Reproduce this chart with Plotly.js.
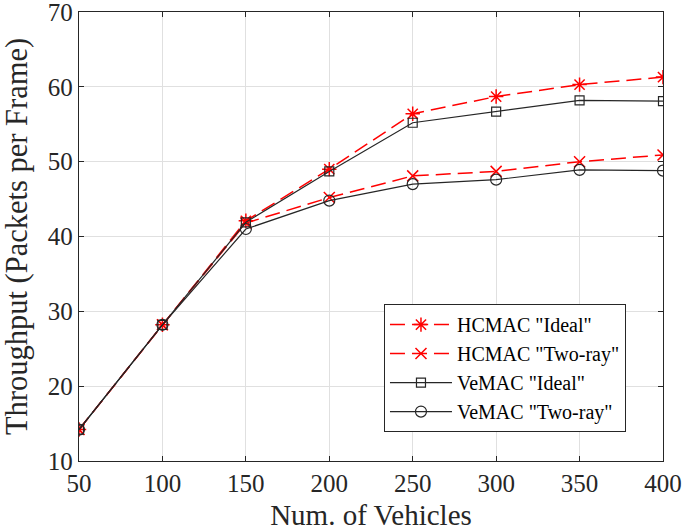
<!DOCTYPE html>
<html>
<head>
<meta charset="utf-8">
<script src="https://cdn.plot.ly/plotly-3.0.1.min.js"></script>
<style>html,body{margin:0;padding:0;background:#fff;}#chart{width:685px;height:531px;}</style>
</head>
<body>
<div id="chart"></div>
<script>
const vehicles = [50, 100, 150, 200, 250, 300, 350, 400];
const hcmacIdeal = [14.2, 28.2, 42.1, 49.0, 56.4, 58.7, 60.3, 61.3];
const hcmacTwoRay = [14.2, 28.2, 41.8, 45.2, 48.1, 48.7, 50.0, 50.9];
const vemacIdeal = [14.2, 28.2, 41.9, 48.7, 55.2, 56.7, 58.2, 58.1];
const vemacTwoRay = [14.2, 28.2, 41.0, 44.8, 47.0, 47.6, 48.9, 48.8];
const seriesNames = ['HCMAC "Ideal"', 'HCMAC "Two-ray"', 'VeMAC "Ideal"', 'VeMAC "Two-ray"'];
const xTicks = [50, 100, 150, 200, 250, 300, 350, 400];
const yTicks = [10, 20, 30, 40, 50, 60, 70];

const red = '#ff0000';
const blk = '#262626';
const font = 'Liberation Serif, Times New Roman, serif';

const traces = [
  {x: vehicles, y: hcmacIdeal, name: seriesNames[0], mode: 'lines+markers',
   line: {color: red, width: 1.5, dash: '15px,7px'},
   marker: {symbol: 'asterisk-open', size: 12, color: red, line: {color: red, width: 1.5}}},
  {x: vehicles, y: hcmacTwoRay, name: seriesNames[1], mode: 'lines+markers',
   line: {color: red, width: 1.5, dash: '15px,7px'},
   marker: {symbol: 'x-thin-open', size: 11, color: red, line: {color: red, width: 1.5}}},
  {x: vehicles, y: vemacIdeal, name: seriesNames[2], mode: 'lines+markers',
   line: {color: blk, width: 1.2},
   marker: {symbol: 'square-open', size: 9, color: blk, line: {color: blk, width: 1.2}}},
  {x: vehicles, y: vemacTwoRay, name: seriesNames[3], mode: 'lines+markers',
   line: {color: blk, width: 1.2},
   marker: {symbol: 'circle-open', size: 11, color: blk, line: {color: blk, width: 1.2}}}
];

const axisCommon = {
  showline: true, linecolor: blk, linewidth: 1.2, mirror: 'allticks',
  ticks: 'inside', ticklen: 5, tickcolor: blk, tickwidth: 1,
  showgrid: true, gridcolor: '#e0e0e0', gridwidth: 1, zeroline: false,
  ticklabeloverflow: 'allow',
  tickfont: {family: font, size: 25, color: blk}
};

const layout = {
  width: 685, height: 531,
  margin: {l: 79, r: 22, t: 12, b: 70},
  paper_bgcolor: '#fff', plot_bgcolor: '#fff',
  font: {family: font, color: blk},
  showlegend: true,
  xaxis: Object.assign({}, axisCommon, {
    range: [50, 400], tickvals: xTicks, ticktext: xTicks.map(String),
    title: {text: 'Num. of Vehicles', font: {family: font, size: 29, color: blk}, standoff: 8}
  }),
  yaxis: Object.assign({}, axisCommon, {
    range: [10, 70], tickvals: yTicks, ticktext: yTicks.map(String),
    ticklabelshift: -2.5,
    title: {text: 'Throughput (Packets per Frame)', font: {family: font, size: 30.5, color: blk}, standoff: 21}
  }),
  legend: {
    x: 0.9366, y: 0.0644, xanchor: 'right', yanchor: 'bottom',
    bgcolor: '#fff', bordercolor: blk, borderwidth: 1,
    font: {family: font, size: 20, color: '#000'},
    itemwidth: 62, tracegroupgap: 0
  }
};

Plotly.newPlot('chart', traces, layout, {displayModeBar: false, staticPlot: true});
</script>
</body>
</html>
